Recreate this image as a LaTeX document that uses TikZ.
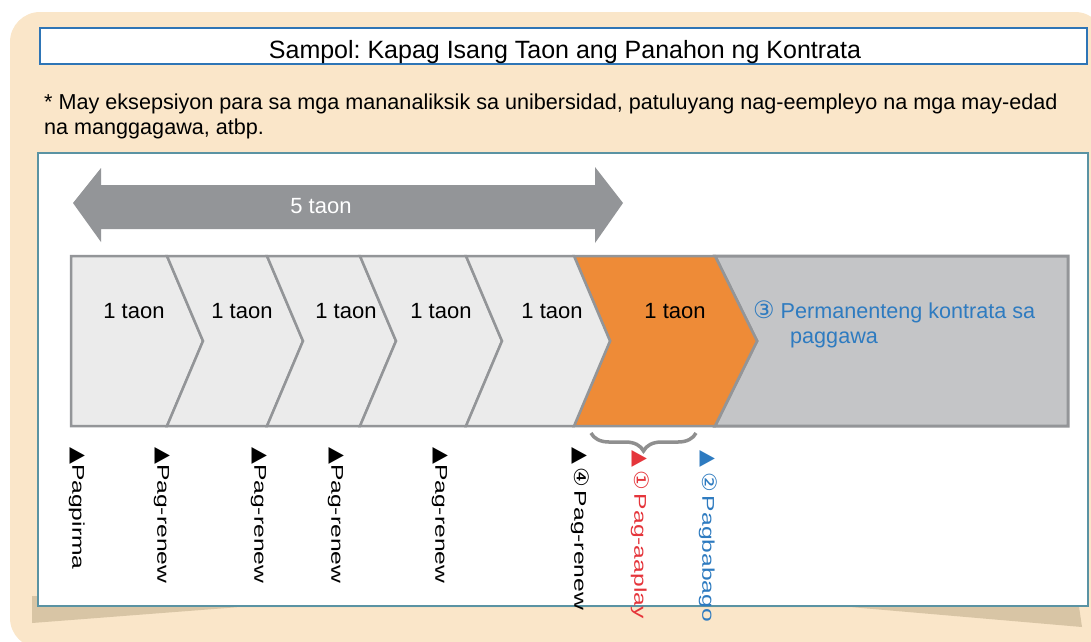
\documentclass[tikz,border=0pt]{standalone}
\usepackage{fontspec}
\setmainfont{Liberation Sans}
\newfontfamily\dvfont{DejaVu Sans}
\newfontfamily\tallfont{Liberation Sans}[FakeStretch=1.45]
\newfontfamily\talldvfont{DejaVu Sans}[FakeStretch=1.1]
\usetikzlibrary{decorations.pathreplacing}
\definecolor{paper}{HTML}{FAE6C9}
\definecolor{papershade}{HTML}{D8C5A5}
\definecolor{titleblue}{HTML}{2E75B6}
\definecolor{boxteal}{HTML}{5A93A3}
\definecolor{arrowgray}{HTML}{939598}
\definecolor{chevgray}{HTML}{EBEBEB}
\definecolor{restgray}{HTML}{C4C5C7}
\definecolor{yearorange}{HTML}{EE8B37}
\definecolor{signred}{HTML}{E5353B}
\definecolor{signblue}{HTML}{2E7BC0}
\definecolor{bracegray}{HTML}{8F8F8F}
\newcommand{\signmark}[1]{{\talldvfont\fontsize{20}{20}\selectfont #1}}
\begin{document}
\begin{tikzpicture}[x=1pt,y=-1pt]
\tikzstyle{chevron}=[draw=arrowgray,line width=2.5,fill=chevgray]
\tikzstyle{year node}=[anchor=base,inner sep=0,font=\fontsize{22}{26}\selectfont]
\tikzset{
	sign node/.style={rotate=-90,anchor=west,inner sep=0,font=\tallfont\fontsize{17}{20}\selectfont},
	brace line/.style={draw=bracegray,line width=3.5,decorate,decoration={brace,mirror,amplitude=18}}
}
\useasboundingbox (0,0) rectangle (1091,641);
% paper and its shadow
\fill[paper,rounded corners=30] (10,12) rectangle (1105,648);
\fill[papershade] (32,596) -- (32,623) -- (240,607) -- (850,607) -- (1082,627) -- (1078,600) -- cycle;
\draw[titleblue,line width=2.5,fill=white] (40,28) rectangle (1087,64);
\node[anchor=base,inner sep=0,font=\fontsize{25}{29}\selectfont] (title) at (565,58)
	{Sampol:\ Kapag Isang Taon ang Panahon\ ng Kontrata};
\node[anchor=base west,inner sep=0,font=\fontsize{21.6}{25}\selectfont] (note1) at (44,109)
	{* May eksepsiyon para sa mga mananaliksik sa unibersidad, patuluyang nag-eempleyo na mga may-edad};
\node[anchor=base west,inner sep=0,font=\fontsize{21.6}{25}\selectfont] (note2) at (44,134)
	{na manggagawa, atbp.};
\draw[boxteal,line width=1.5,fill=white] (38,153) rectangle (1088,606);
% 5 years
\fill[arrowgray] (73,203) -- (101,168) -- (101,185) -- (595,185) -- (595,167) -- (623,203)
	-- (595,243) -- (595,229) -- (101,229) -- (101,242) -- cycle;
\node[anchor=base,inner sep=0,text=white,font=\fontsize{22}{26}\selectfont] (span) at (321,213) {5 taon};
% chevrons
\draw[draw=arrowgray,line width=3,fill=restgray] (715,256) -- (1068,256) -- (1068,426) -- (715,426) -- (757,341) -- cycle;
\draw[chevron,fill=yearorange] (574,256) -- (715,256) -- (757,341) -- (715,426) -- (574,426) -- (610,341) -- cycle;
\draw[chevron] (71,256) -- (167,256) -- (203,341) -- (167,426) -- (71,426) -- cycle;
\foreach \la/\lt/\ra/\rt in {167/203/267/303,267/303/360/396,360/396/466/502,466/502/574/610}
	\draw[chevron] (\la,256) -- (\ra,256) -- (\rt,341) -- (\ra,426) -- (\la,426) -- (\lt,341) -- cycle;
\foreach \x [count=\i] in {134,242,346,441,552,675}
	\node[year node] (yr\i) at (\x,318) {1 taon};
\node[anchor=base west,inner sep=0,text=signblue,font=\fontsize{21.6}{25}\selectfont] (perm) at (753,318)
	{{\dvfont\fontsize{24}{25}\selectfont ③} Permanenteng kontrata sa};
\node[anchor=base west,inner sep=0,text=signblue,font=\fontsize{21.6}{25}\selectfont] (perm2) at (790,343)
	{paggawa};
% signing points
\node[sign node] (sign) at (77,447) {\signmark{▲}Pagpirma};
\foreach \x [count=\i] in {162,259,336,440}
	\node[sign node] (renew\i) at (\x,447) {\signmark{▲}Pag-renew};
\node[sign node] (renew5) at (580,447) {\signmark{▲\kern3pt④}\kern4pt Pag-renew};
\node[sign node,text=signred] (apply) at (640,450) {\signmark{▲\kern3pt①}\kern4pt Pag-aaplay};
\node[sign node,text=signblue] (change) at (708,450) {\signmark{▲\kern5pt②}\kern4pt Pagbabago};
\coordinate (bl) at (591,433);
\coordinate (br) at (696,433);
\draw[brace line] (bl) -- (br);
\end{tikzpicture}
\end{document}
